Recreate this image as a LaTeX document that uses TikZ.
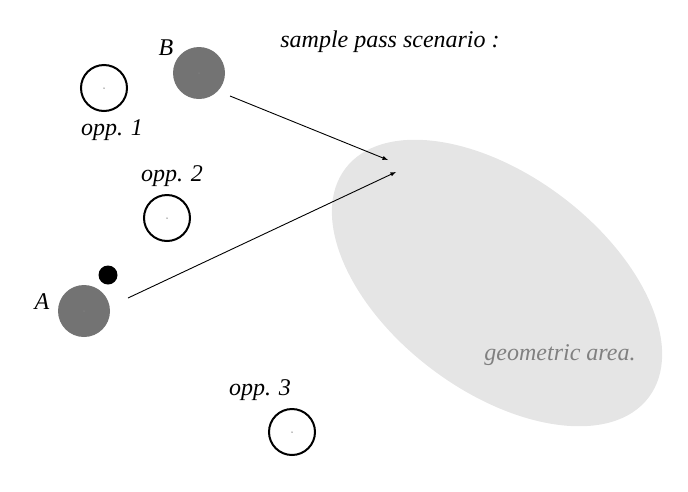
\documentclass[tikz,border=0pt]{standalone}
\usepackage{fontspec}
\setmainfont{Liberation Serif}
\begin{document}
\begin{tikzpicture}[x=1pt,y=-1pt,
  lbl/.style={font=\itshape\fontsize{24}{26}\selectfont},
  opp/.style={circle,draw=black,line width=2pt,minimum size=46pt,inner sep=0pt},
  team/.style={circle,fill=black!55,minimum size=52pt,inner sep=0pt},
  ctr/.style={circle,fill=black!50,minimum size=1.5pt,inner sep=0pt},
  arr/.style={-latex,line width=0.9pt}]
\useasboundingbox (0,0) rectangle (688,491);
\begin{scope}[shift={(497,283)},rotate=-37]
\fill[black!10] (0,0) ellipse [x radius=190, y radius=108];
\end{scope}
\node[lbl,text=black!50] (ga) at (560,355) {geometric area.};
\node[lbl] (t) at (390,42) {sample pass scenario :};
\node[team] (B) at (199,73) {}; \node[ctr] at (B) {};
\node[lbl] (Bl) at (166,48) {B};
\node[opp] (o1) at (104,88) {}; \node[ctr] at (o1) {};
\node[lbl] (o1l) at (112,130) {opp. 1};
\node[opp] (o2) at (167,218) {}; \node[ctr] at (o2) {};
\node[lbl] (o2l) at (172,176) {opp. 2};
\node[circle,fill=black,minimum size=19pt,inner sep=0pt] (ball) at (108,275) {};
\node[team] (A) at (84,311) {}; \node[ctr] at (A) {};
\node[lbl] (Al) at (42,302) {A};
\node[opp] (o3) at (292,432) {}; \node[ctr] at (o3) {};
\node[lbl] (o3l) at (260,390) {opp. 3};
\coordinate (p1) at (388,160);
\coordinate (p2) at (396,172);
\draw[arr] (230,96) -- (p1);
\draw[arr] (128,298) -- (p2);
\end{tikzpicture}
\end{document}
